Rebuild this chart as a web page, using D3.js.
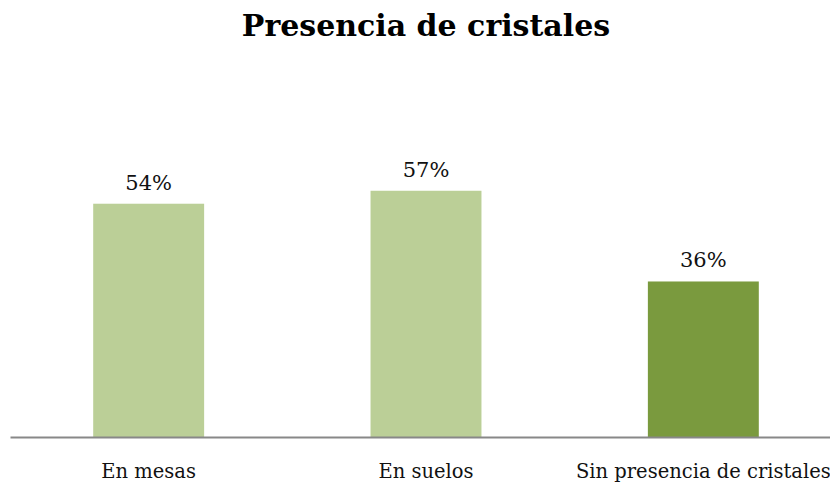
<!DOCTYPE html>
<html>
<head>
<meta charset="utf-8">
<script src="https://cdn.jsdelivr.net/npm/d3@7"></script>
<style>
  body { margin: 0; background: #fff; }
  svg { display: block; }
</style>
</head>
<body>
<div id="chart"></div>
<script>
// data
var categories = ["En mesas", "En suelos", "Sin presencia de cristales"];
var values = [0.54, 0.57, 0.36];
var barColors = ["#bbcf97", "#bbcf97", "#7a9a3e"];

var width = 830, height = 485;
var baseY = 437;

var svg = d3.select("#chart").append("svg")
  .attr("width", width)
  .attr("height", height);

var x = d3.scaleBand()
  .domain(categories)
  .range([10, 842])
  .paddingInner(0.6)
  .paddingOuter(0.3);

var y = d3.scaleLinear()
  .domain([0, 1])
  .range([baseY, baseY - 432]);

svg.append("text")
  .attr("x", 426)
  .attr("y", 36)
  .attr("text-anchor", "middle")
  .style("font-family", "'DejaVu Serif', serif")
  .style("font-weight", "bold")
  .style("font-size", "30px")
  .attr("fill", "#000")
  .text("Presencia de cristales");

svg.selectAll("rect.bar")
  .data(values)
  .enter().append("rect")
  .attr("class", "bar")
  .attr("x", function(d, i) { return x(categories[i]); })
  .attr("y", function(d) { return y(d); })
  .attr("width", x.bandwidth())
  .attr("height", function(d) { return baseY - y(d); })
  .attr("fill", function(d, i) { return barColors[i]; });

svg.selectAll("text.val")
  .data(values)
  .enter().append("text")
  .attr("class", "val")
  .attr("x", function(d, i) { return x(categories[i]) + x.bandwidth() / 2; })
  .attr("y", function(d) { return y(d) - 14; })
  .attr("text-anchor", "middle")
  .style("font-family", "'DejaVu Serif', serif")
  .style("font-size", "21px")
  .attr("fill", "#111")
  .text(function(d) { return d3.format(".0%")(d); });

// x axis
var xAxis = svg.append("g")
  .attr("transform", "translate(0," + baseY + ")")
  .call(d3.axisBottom(x).tickSize(0).tickPadding(27));
xAxis.select(".domain")
  .attr("stroke", "#888")
  .attr("stroke-width", 2);
xAxis.selectAll("text")
  .style("font-family", "'DejaVu Serif', serif")
  .style("font-size", "19.5px")
  .attr("fill", "#111");
</script>
</body>
</html>
